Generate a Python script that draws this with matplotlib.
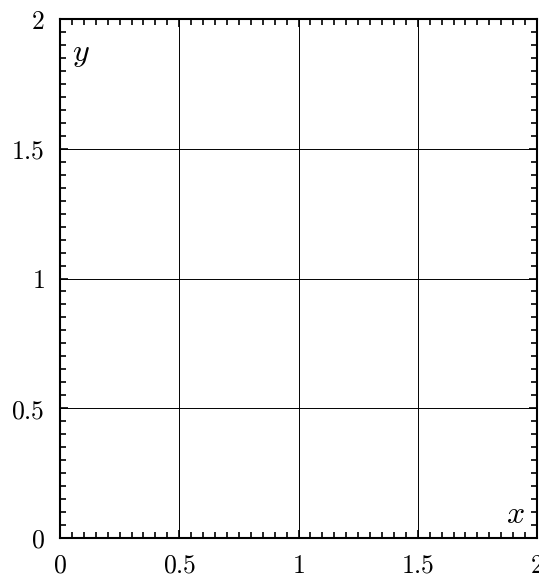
import matplotlib
matplotlib.use("Agg")
import matplotlib.pyplot as plt
from matplotlib.ticker import MultipleLocator, FuncFormatter

# --- данные / оси ---
x_lim = [0, 2]
y_lim = [0, 2]
major_step = 0.5
minor_step = 0.05
x_label = "x"
y_label = "y"

plt.rcParams["mathtext.fontset"] = "cm"
plt.rcParams["font.family"] = "serif"
plt.rcParams["font.serif"] = ["DejaVu Serif"]

fig = plt.figure(figsize=(5.39, 5.78), dpi=100)
ax = fig.add_axes([60 / 539, 40 / 578, 477 / 539, 519 / 578])

ax.set_xlim(*x_lim)
ax.set_ylim(*y_lim)

ax.xaxis.set_major_locator(MultipleLocator(major_step))
ax.yaxis.set_major_locator(MultipleLocator(major_step))
ax.xaxis.set_minor_locator(MultipleLocator(minor_step))
ax.yaxis.set_minor_locator(MultipleLocator(minor_step))

fmt = FuncFormatter(lambda v, pos: f"${v:g}$")
ax.xaxis.set_major_formatter(fmt)
ax.yaxis.set_major_formatter(fmt)

ax.tick_params(which="both", direction="in", top=True, right=True, color="black")
ax.tick_params(which="major", length=6, width=1.2, labelsize=18.5)
ax.tick_params(axis="x", which="major", pad=10.5)
ax.tick_params(axis="y", which="major", pad=11)
ax.tick_params(which="minor", length=4, width=1.2)

for s in ax.spines.values():
    s.set_linewidth(1.5)

ax.grid(True, which="major", color="black", linewidth=0.7)

# подписи осей внутри поля
ax.text(0.974, 0.016, f"${x_label}$", transform=ax.transAxes, ha="right", va="bottom", fontsize=23)
ax.text(0.025, 0.964, f"${y_label}$", transform=ax.transAxes, ha="left", va="top", fontsize=23)

fig.savefig("out.png", dpi=100)
plt.close(fig)
